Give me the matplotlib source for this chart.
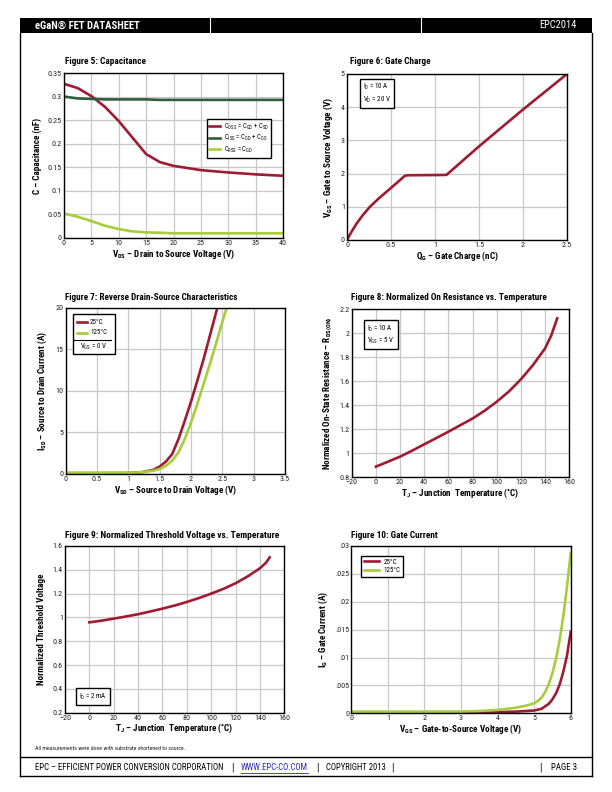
import matplotlib
matplotlib.use("Agg")
import matplotlib.pyplot as plt
from matplotlib import font_manager as fm
from matplotlib.lines import Line2D
from matplotlib.patches import Rectangle

# ---- choose a condensed sans font if one is installed ----
_entries = fm.fontManager.ttflist
_names = {e.name for e in _entries}
FAM, STRETCH = 'DejaVu Sans', 'normal'
for _p in ['Liberation Sans Narrow', 'Roboto Condensed', 'Open Sans Condensed',
           'Noto Sans Condensed', 'DejaVu Sans Condensed', 'Arial Narrow']:
    if _p in _names:
        FAM, STRETCH = _p, 'normal'
        break
else:
    for _f in ['Noto Sans', 'Roboto', 'Open Sans', 'DejaVu Sans', 'Liberation Sans', 'Lato', 'Inter']:
        _c = [e for e in _entries if e.name == _f and str(e.stretch) in
              ('condensed', 'semi-condensed', 'extra-condensed')]
        if _c:
            FAM, STRETCH = _f, 'condensed'
            break

plt.rcParams['font.family'] = [FAM, 'DejaVu Sans']
plt.rcParams['font.sans-serif'] = [FAM, 'DejaVu Sans']
plt.rcParams['font.stretch'] = STRETCH
plt.rcParams['mathtext.fontset'] = 'custom'
plt.rcParams['mathtext.rm'] = 'sans'
plt.rcParams['mathtext.bf'] = 'sans:bold'
plt.rcParams['mathtext.it'] = 'sans:italic'

RED = '#9E1B32'
DGREEN = '#2F5D3E'
LGREEN = '#A6CE39'
GRID = '#C8C8C8'

# ---------------- data ----------------
# Figure 5: Capacitance
vds = [0, 2.5, 5, 7.5, 10, 12.5, 15, 17.5, 20, 25, 30, 35, 40]
c_oss = [0.327, 0.318, 0.301, 0.278, 0.248, 0.213, 0.178, 0.161, 0.153, 0.144, 0.139, 0.135, 0.132]
c_iss = [0.300, 0.296, 0.295, 0.294, 0.294, 0.294, 0.294, 0.293, 0.293, 0.293, 0.293, 0.293, 0.293]
c_rss = [0.052, 0.045, 0.036, 0.026, 0.019, 0.014, 0.012, 0.011, 0.010, 0.010, 0.010, 0.010, 0.010]

# Figure 6: Gate charge
qg = [0, 0.05, 0.11, 0.18, 0.26, 0.36, 0.47, 0.57, 0.66, 0.70, 1.13, 1.5, 2.0, 2.5]
vgs_q = [0, 0.24, 0.5, 0.75, 1.0, 1.25, 1.5, 1.73, 1.94, 1.95, 1.96, 2.82, 3.93, 5.0]

# Figure 7: Reverse drain-source
vsd_25 = [0, 0.5, 1.0, 1.2, 1.4, 1.5, 1.6, 1.7, 1.8, 1.9, 2.0, 2.1, 2.2, 2.3, 2.42]
isd_25 = [0.1, 0.1, 0.12, 0.2, 0.5, 0.9, 1.5, 2.4, 4.2, 6.4, 8.7, 11.2, 13.8, 16.6, 20]
vsd_125 = [0, 0.5, 1.0, 1.2, 1.4, 1.5, 1.6, 1.7, 1.8, 1.9, 2.0, 2.1, 2.2, 2.3, 2.4, 2.5, 2.57]
isd_125 = [0.15, 0.15, 0.15, 0.2, 0.4, 0.6, 1.0, 1.6, 2.6, 4.2, 6.2, 8.4, 10.8, 13.2, 15.7, 18.3, 20]

# Figure 8: Normalized on resistance
tj_r = [0, 10, 20, 30, 40, 50, 60, 70, 80, 90, 100, 110, 120, 130, 140, 145, 150]
rds_norm = [0.889, 0.93, 0.972, 1.022, 1.075, 1.127, 1.18, 1.235, 1.29, 1.355, 1.43, 1.515,
            1.617, 1.736, 1.875, 1.98, 2.125]

# Figure 9: Normalized threshold voltage
tj_v = [0, 10, 20, 30, 40, 50, 60, 70, 80, 90, 100, 110, 120, 130, 140, 145, 148]
vth_norm = [0.959, 0.973, 0.99, 1.008, 1.027, 1.05, 1.074, 1.1, 1.13, 1.163, 1.2, 1.24,
            1.287, 1.345, 1.413, 1.46, 1.505]

# Figure 10: Gate current
vgs_125 = [0, 1, 2, 3, 3.5, 4, 4.5, 4.8, 5.0, 5.1, 5.2, 5.3, 5.4, 5.5, 5.6, 5.7, 5.8, 5.9, 6.0]
ig_125 = [0.0003, 0.0003, 0.0003, 0.0003, 0.0004, 0.0006, 0.001, 0.0014, 0.0018, 0.0022,
          0.0028, 0.0038, 0.0052, 0.0072, 0.0098, 0.0132, 0.0175, 0.0228, 0.0287]
vgs_25 = [2.1, 3, 4, 4.5, 5.0, 5.2, 5.4, 5.5, 5.6, 5.7, 5.8, 5.9, 6.0]
ig_25 = [0.0002, 0.0002, 0.0002, 0.0003, 0.0005, 0.0008, 0.0017, 0.0025, 0.0036, 0.0052,
         0.0075, 0.0104, 0.0146]
ig_ticklabels = ['0', '.005', '.01', '.015', '.02', '.025', '.03']

# ---------------- figure ----------------
W, H = 612, 792
fig = plt.figure(figsize=(6.12, 7.92), dpi=100)
renderer = fig.canvas.get_renderer()


def px_axes(l, t, r, b):
    return fig.add_axes([l / W, 1 - b / H, (r - l) / W, (b - t) / H])


def fx(x):
    return x / W


def fy(y):
    return 1 - y / H


def fit_text(x0, x1, y, s, size, ha='left', **kw):
    """Place text starting at x0 px and shrink it so it ends near x1 px."""
    t = fig.text(fx(x0 if ha == 'left' else x1), fy(y), s, fontsize=size, va='center', ha=ha, **kw)
    w = t.get_window_extent(renderer).width
    target = x1 - x0
    if w > target > 0:
        t.set_fontsize(size * target / w)
    return t


def style(ax, xlim, ylim, xticks, yticks, xtl=None, ytl=None):
    ax.set_xlim(*xlim)
    ax.set_ylim(*ylim)
    ax.set_xticks(xticks)
    ax.set_yticks(yticks)
    if xtl is not None:
        ax.set_xticklabels(xtl)
    if ytl is not None:
        ax.set_yticklabels(ytl)
    ax.grid(True, color=GRID, lw=0.9)
    ax.set_axisbelow(True)
    ax.tick_params(length=0, labelsize=5.8, pad=1.5, colors='#222222')
    for s in ax.spines.values():
        s.set_linewidth(1.0)
        s.set_color('black')


LW = 1.9
TFS = 8.0
LFS = 6.6
BOXFS = 5.0

# Page decoration
fig.patches.append(Rectangle((fx(20), fy(33)), fx(572), 15 / H, transform=fig.transFigure,
                             facecolor='black', edgecolor='none'))
for xv in (210, 421):
    fig.add_artist(Line2D([fx(xv), fx(xv)], [fy(33), fy(18)], color='white', lw=0.8))
fit_text(35, 139, 25.5, 'eGaN® FET DATASHEET', 8.5, color='white', fontweight='bold')
fit_text(540, 577, 25.5, 'EPC2014', 8.5, ha='right', color='white')
for xv in (20, 592):
    fig.add_artist(Line2D([fx(xv), fx(xv)], [fy(776), fy(33)], color='black', lw=1.0))
for yv in (757, 776):
    fig.add_artist(Line2D([fx(20), fx(592)], [fy(yv), fy(yv)], color='black', lw=1.0))

fit_text(35, 190, 749, 'All measurements were done with substrate shortened to source.', 5.0,
         color='#222222')
yf = 767
fit_text(35, 224, yf, 'EPC – EFFICIENT POWER CONVERSION CORPORATION', 7.6)
fig.text(fx(232), fy(yf), '|', fontsize=7.6, va='center', ha='center')
fit_text(241, 308, yf, 'WWW.EPC-CO.COM', 7.6, color='#2B2BB0')
fig.add_artist(Line2D([fx(241), fx(308)], [fy(772.5), fy(772.5)], color='#2B2BB0', lw=0.6))
fig.text(fx(317), fy(yf), '|', fontsize=7.6, va='center', ha='center')
fit_text(326, 386, yf, 'COPYRIGHT 2013', 7.6)
fig.text(fx(392), fy(yf), '|', fontsize=7.6, va='center', ha='center')
fig.text(fx(540), fy(yf), '|', fontsize=7.6, va='center', ha='center')
fit_text(551, 577, yf, 'PAGE 3', 7.6, ha='right')

# ---------- Figure 5 ----------
ax5 = px_axes(64, 73, 283, 238)
l_oss, = ax5.plot(vds, c_oss, color=RED, lw=LW)
l_iss, = ax5.plot(vds, c_iss, color=DGREEN, lw=LW)
l_rss, = ax5.plot(vds, c_rss, color=LGREEN, lw=LW)
style(ax5, (0, 40), (0, 0.35), range(0, 41, 5), [i * 0.05 for i in range(8)],
      ytl=['0', '0.05', '0.1', '0.15', '0.2', '0.25', '0.3', '0.35'])
ax5.set_xlabel(r'V$_{\mathbf{DS}}$ – Drain to Source Voltage (V)', fontsize=LFS,
               fontweight='bold', labelpad=1)
ax5.set_ylabel('C – Capacitance (nF)', fontsize=LFS, fontweight='bold', labelpad=4)
leg = ax5.legend([l_oss, l_iss, l_rss],
                 [r'C$_{\mathrm{OSS}}$ = C$_{\mathrm{GD}}$ + C$_{\mathrm{SD}}$',
                  r'C$_{\mathrm{ISS}}$ = C$_{\mathrm{GD}}$ + C$_{\mathrm{GS}}$',
                  r'C$_{\mathrm{RSS}}$ = C$_{\mathrm{GD}}$'],
                 loc='upper right', bbox_to_anchor=(0.962, 0.742), fontsize=4.9,
                 fancybox=False, framealpha=1, edgecolor='black', handlelength=1.6,
                 borderpad=0.4, labelspacing=0.2, handletextpad=0.5)
leg.get_frame().set_linewidth(1.0)
fit_text(65, 146, 62, 'Figure 5: Capacitance', TFS, fontweight='bold')

# ---------- Figure 6 ----------
ax6 = px_axes(347, 74, 567, 240)
ax6.plot(qg, vgs_q, color=RED, lw=LW)
style(ax6, (0, 2.5), (0, 5), [0, 0.5, 1, 1.5, 2, 2.5], range(0, 6),
      xtl=['0', '0.5', '1', '1.5', '2', '2.5'])
ax6.set_xlabel(r'Q$_{\mathbf{G}}$ – Gate Charge (nC)', fontsize=LFS, fontweight='bold', labelpad=1)
ax6.set_ylabel(r'V$_{\mathbf{GS}}$ – Gate to Source Voltage (V)', fontsize=LFS,
               fontweight='bold', labelpad=4)
ax6.text(0.072, 0.95, 'I$_{\\mathrm{D}}$ = 10 A\nV$_{\\mathrm{D}}$ = 20 V', transform=ax6.transAxes,
         fontsize=BOXFS, va='top', ha='left', linespacing=1.3,
         bbox=dict(boxstyle='square,pad=0.45', fc='white', ec='black', lw=1.0))
fit_text(350, 431, 62, 'Figure 6: Gate Charge', TFS, fontweight='bold')

# ---------- Figure 7 ----------
ax7 = px_axes(65.7, 307.7, 285, 474)
ax7.plot(vsd_25, isd_25, color=RED, lw=LW)
ax7.plot(vsd_125, isd_125, color=LGREEN, lw=LW)
style(ax7, (0, 3.5), (0, 20), [0, 0.5, 1, 1.5, 2, 2.5, 3, 3.5], range(0, 21, 5),
      xtl=['0', '0.5', '1', '1.5', '2', '2.5', '3', '3.5'])
ax7.set_xlabel(r'V$_{\mathbf{SD}}$ – Source to Drain Voltage (V)', fontsize=LFS,
               fontweight='bold', labelpad=1)
ax7.set_ylabel(r'I$_{\mathbf{SD}}$ – Source to Drain Current (A)', fontsize=LFS,
               fontweight='bold', labelpad=5)
ax7.add_patch(Rectangle((0.033, 0.722), 0.192, 0.24, transform=ax7.transAxes,
                        fc='white', ec='black', lw=1.0, zorder=5))
ax7.add_line(Line2D([0.052, 0.095], [0.912, 0.912], transform=ax7.transAxes, color=RED,
                    lw=LW, zorder=6))
ax7.add_line(Line2D([0.052, 0.095], [0.85, 0.85], transform=ax7.transAxes, color=LGREEN,
                    lw=LW, zorder=6))
ax7.text(0.111, 0.912, '25°C', transform=ax7.transAxes, fontsize=BOXFS, va='center', zorder=6)
ax7.text(0.111, 0.85, '125°C', transform=ax7.transAxes, fontsize=BOXFS, va='center', zorder=6)
ax7.add_line(Line2D([0.039, 0.205], [0.806, 0.806], transform=ax7.transAxes, color='black',
                    lw=0.8, zorder=6))
ax7.text(0.126, 0.763, r'V$_{\mathrm{GS}}$ = 0 V', transform=ax7.transAxes, fontsize=BOXFS,
         va='center', ha='center', zorder=6)
fit_text(65, 238, 298, 'Figure 7: Reverse Drain-Source Characteristics', TFS, fontweight='bold')

# ---------- Figure 8 ----------
ax8 = px_axes(351.7, 309.3, 569.3, 477.3)
ax8.plot(tj_r, rds_norm, color=RED, lw=LW)
style(ax8, (-20, 160), (0.8, 2.2), range(-20, 161, 20), [0.8 + 0.2 * i for i in range(8)],
      ytl=['0.8', '1', '1.2', '1.4', '1.6', '1.8', '2', '2.2'])
ax8.set_xlabel(r'T$_{\mathbf{J}}$ – Junction  Temperature (˚C)', fontsize=LFS,
               fontweight='bold', labelpad=1)
ax8.set_ylabel(r'Normalized On-State Resistance – R$_{\mathbf{DS(ON)}}$', fontsize=LFS,
               fontweight='bold', labelpad=4)
ax8.text(0.072, 0.915, 'I$_{\\mathrm{D}}$ = 10 A\nV$_{\\mathrm{GS}}$ = 5 V', transform=ax8.transAxes,
         fontsize=BOXFS, va='top', ha='left', linespacing=1.3,
         bbox=dict(boxstyle='square,pad=0.45', fc='white', ec='black', lw=1.0))
fit_text(351, 547, 298, 'Figure 8: Normalized On Resistance vs. Temperature', TFS,
         fontweight='bold')

# ---------- Figure 9 ----------
ax9 = px_axes(65, 546, 284.3, 712.7)
ax9.plot(tj_v, vth_norm, color=RED, lw=LW)
style(ax9, (-20, 160), (0.2, 1.6), range(-20, 161, 20), [0.2 + 0.2 * i for i in range(8)],
      ytl=['0.2', '0.4', '0.6', '0.8', '1', '1.2', '1.4', '1.6'])
ax9.set_xlabel(r'T$_{\mathbf{J}}$ – Junction  Temperature (˚C)', fontsize=LFS,
               fontweight='bold', labelpad=1)
ax9.set_ylabel('Normalized Threshold Voltage', fontsize=LFS, fontweight='bold', labelpad=5)
ax9.text(0.065, 0.097, 'I$_{\\mathrm{D}}$ = 2 mA', transform=ax9.transAxes,
         fontsize=BOXFS, va='center', ha='left',
         bbox=dict(boxstyle='square,pad=0.45', fc='white', ec='black', lw=1.0))
fit_text(65, 278, 535, 'Figure 9: Normalized Threshold Voltage vs. Temperature', TFS,
         fontweight='bold')

# ---------- Figure 10 ----------
ax10 = px_axes(351.3, 546, 570.7, 713.3)
l25, = ax10.plot(vgs_25, ig_25, color=RED, lw=LW)
l125, = ax10.plot(vgs_125, ig_125, color=LGREEN, lw=LW)
style(ax10, (0, 6), (0, 0.03), range(0, 7), [0.005 * i for i in range(7)], ytl=ig_ticklabels)
ax10.set_xlabel(r'V$_{\mathbf{GS}}$ – Gate-to-Source Voltage (V)', fontsize=LFS,
                fontweight='bold', labelpad=1)
ax10.set_ylabel(r'I$_{\mathbf{G}}$ – Gate Current (A)', fontsize=LFS, fontweight='bold',
                labelpad=4)
leg10 = ax10.legend([l25, l125], ['25°C', '125°C'], loc='upper left',
                    bbox_to_anchor=(0.03, 0.958), fontsize=BOXFS, fancybox=False, framealpha=1,
                    edgecolor='black', handlelength=2.2, borderpad=0.35, labelspacing=0.2,
                    handletextpad=0.6)
leg10.get_frame().set_linewidth(1.0)
fit_text(351, 437, 535, 'Figure 10: Gate Current', TFS, fontweight='bold')

fig.savefig('out.png', dpi=100)
